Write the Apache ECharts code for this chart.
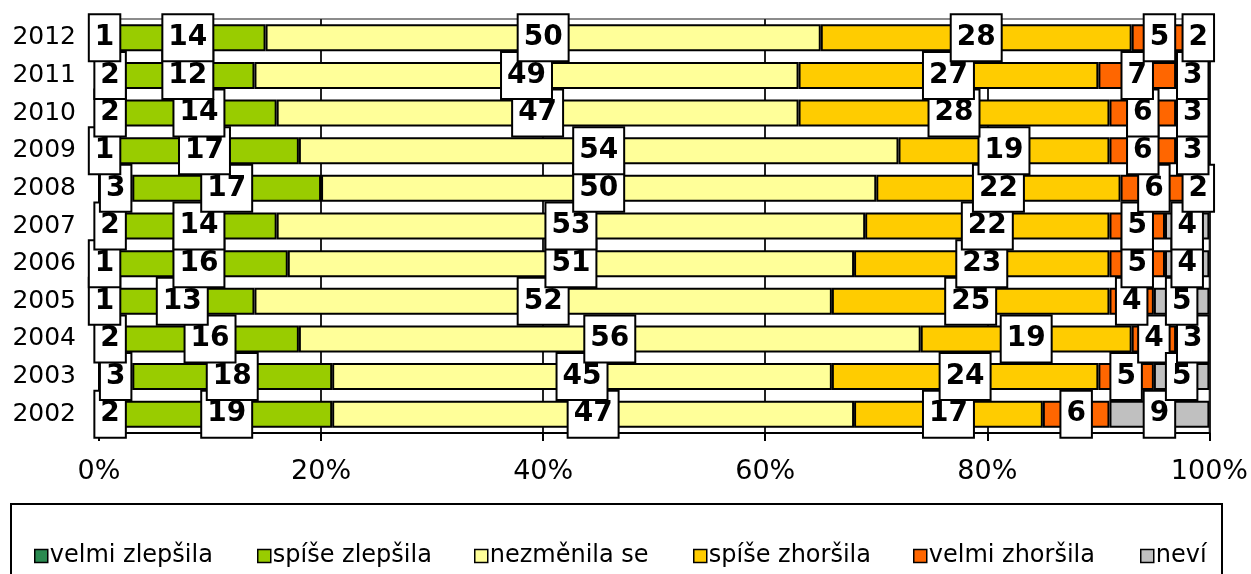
<!DOCTYPE html>
<html>
<head>
<meta charset="utf-8">
<script src="https://cdn.jsdelivr.net/npm/echarts@6/dist/echarts.min.js"></script>
<style>
    html, body { margin: 0; padding: 0; background: #fff; }
    #chart { width: 1251px; height: 574px; }
</style>
</head>
<body>
<div id="chart"></div>
<script>
// roky odspodu nahoru
const years = ['2002', '2003', '2004', '2005', '2006', '2007', '2008', '2009', '2010', '2011', '2012']

const velmiZlepsila = [2, 3, 2, 1, 1, 2, 3, 1, 2, 2, 1]
const spiseZlepsila = [19, 18, 16, 13, 16, 14, 17, 17, 14, 12, 14]
const nezmenilaSe = [47, 45, 56, 52, 51, 53, 50, 54, 47, 49, 50]
const spiseZhorsila = [17, 24, 19, 25, 23, 22, 22, 19, 28, 27, 28]
const velmiZhorsila = [6, 5, 4, 4, 5, 5, 6, 6, 6, 7, 5]
const nevi = [9, 5, 3, 5, 4, 4, 2, 3, 3, 3, 2]

const seriesNames = ['velmi zlepšila', 'spíše zlepšila', 'nezměnila se', 'spíše zhoršila', 'velmi zhoršila', 'neví']
const seriesData = [velmiZlepsila, spiseZlepsila, nezmenilaSe, spiseZhorsila, velmiZhorsila, nevi]
const colors = ['#2a8a50', '#99cc00', '#ffff99', '#ffcc00', '#ff6600', '#c0c0c0']

const xTicks = [0, 20, 40, 60, 80, 100]

// pozice položek legendy (x levého okraje ikony)
const legendLeft = [29, 252, 469, 688, 908, 1135]

const chart = echarts.init(document.getElementById('chart'))

chart.setOption({
    animation: false,
    textStyle: { fontFamily: 'DejaVu Sans' },
    color: colors,
    grid: {
        left: 99,
        right: 40,
        top: 19,
        bottom: 141,
        show: true,
        borderColor: '#8c8c8c',
        borderWidth: 2,
        backgroundColor: 'transparent'
    },
    legend: seriesNames.map((name, i) => ({
        data: [name],
        left: legendLeft[i],
        top: 539,
        itemWidth: 13,
        itemHeight: 13,
        icon: 'rect',
        selectedMode: false,
        itemStyle: { borderColor: '#000', borderWidth: 1.5 },
        textStyle: { fontSize: 24, color: '#000', fontFamily: 'DejaVu Sans', padding: [0, 0, 0, -3] }
    })),
    graphic: [{
        type: 'rect',
        shape: { x: 11, y: 504, width: 1211, height: 90 },
        style: { fill: 'none', stroke: '#000', lineWidth: 2 },
        z: -1
    }],
    xAxis: {
        type: 'value',
        min: xTicks[0],
        max: xTicks[xTicks.length - 1],
        interval: 20,
        axisLine: { show: true, lineStyle: { color: '#000', width: 2 } },
        axisTick: { show: true, length: 8, lineStyle: { color: '#000', width: 2 } },
        splitLine: { show: true, lineStyle: { color: '#222', width: 2 } },
        axisLabel: {
            formatter: '{value}%',
            fontSize: 27,
            color: '#000',
            margin: 25
        }
    },
    yAxis: {
        type: 'category',
        data: years,
        axisLine: { show: true, lineStyle: { color: '#000', width: 2 } },
        axisTick: { show: true, length: 5, lineStyle: { color: '#000', width: 2 } },
        axisLabel: { fontSize: 25, color: '#000', margin: 23 }
    },
    series: seriesData.map((data, i) => ({
        name: seriesNames[i],
        type: 'bar',
        stack: 'celkem',
        data: data,
        barWidth: 27,
        itemStyle: { color: colors[i], borderColor: '#000', borderWidth: 2 },
        label: {
            show: true,
            position: 'inside',
            formatter: '{c}',
            fontSize: 28,
            lineHeight: 28,
            fontWeight: 'bold',
            color: '#000',
            backgroundColor: '#fff',
            borderColor: '#000',
            borderWidth: 2,
            padding: [12, 5, 5, 5]
        }
    }))
})
</script>
</body>
</html>
